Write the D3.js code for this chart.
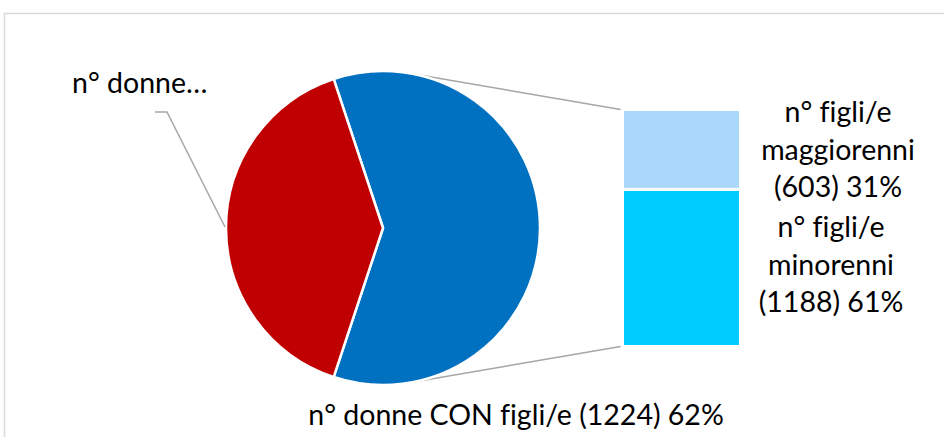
<!DOCTYPE html>
<html lang="it">
<head>
<meta charset="UTF-8">
<title>Donne con figli/e</title>
<script src="https://d3js.org/d3.v7.min.js"></script>
<style>
  body { margin: 0; background: #fff; }
  text { font-family: Lato, "Open Sans", sans-serif; font-size: 28.5px; fill: #000;
         font-variant-ligatures: none; font-feature-settings: "liga" 0; }
  .frame { stroke: #d9d9d9; stroke-width: 1.5px; fill: none; }
  .connector, .leader { stroke: #a6a6a6; stroke-width: 1.5px; fill: none; }
</style>
</head>
<body>
<svg id="chart" width="944" height="437"></svg>
<script>
// pie: women without / with children
var pieNames = ["n° donne SENZA figli/e", "n° donne CON figli/e"];
var pieValues = [810, 1224];
var pieLabels = ["n° donne…", "n° donne CON figli/e (1224) 62%"];
var pieColors = ["#C00000", "#0070C0"];

// bar: breakdown of the children
var barNames = ["n° figli/e minorenni", "n° figli/e maggiorenni"];
var barValues = [1188, 603];
var barLabels = [["n° figli/e", "minorenni", "(1188) 61%"], ["n° figli/e", "maggiorenni", "(603) 31%"]];
var barColors = ["#00CCFF", "#A9D8FB"];

var svg = d3.select("#chart");

// chart frame (only top/left edges visible)
svg.append("path").attr("class", "frame").attr("d", "M4.5,437V13.5H944");

var cx = 383, cy = 228, r = 157;
var blueShare = pieValues[1] / d3.sum(pieValues);
var start = Math.PI / 2 - Math.PI * blueShare;

var pie = d3.pie().sort(null)
    .startAngle(start)
    .endAngle(start + 2 * Math.PI);
// draw blue first so it is centred on the right
var arcs = pie([pieValues[1], pieValues[0]]);
var arc = d3.arc().innerRadius(0).outerRadius(r);

// bar scale
var barTotal = d3.sum(barValues);
var y = d3.scaleLinear().domain([0, barTotal]).range([346.5, 109.5]);
var barX = 622.5, barW = 118;

// connector lines, tangent from bar corners to circle
function tangent(px, py, side) {
  var dx = px - cx, dy = py - cy;
  var d = Math.sqrt(dx * dx + dy * dy);
  var base = Math.atan2(dy, dx);
  var off = Math.acos(r / d) * side;
  return [cx + r * Math.cos(base + off), cy + r * Math.sin(base + off)];
}
var corners = [[barX, y(barTotal), -1], [barX, y(0), 1]];
svg.append("g").selectAll("line")
  .data(corners)
  .join("line")
  .attr("class", "connector")
  .attr("x1", function(d) { return tangent(d[0], d[1], d[2])[0]; })
  .attr("y1", function(d) { return tangent(d[0], d[1], d[2])[1]; })
  .attr("x2", function(d) { return d[0] - 2; })
  .attr("y2", function(d) { return d[1]; });

var pieG = svg.append("g").attr("transform", "translate(" + cx + "," + cy + ")");
pieG.selectAll("path")
  .data(arcs)
  .join("path")
  .attr("d", arc)
  .attr("fill", function(d, i) { return i === 0 ? pieColors[1] : pieColors[0]; })
  .attr("stroke", "#fff")
  .attr("stroke-width", 2.5)
  .attr("stroke-linejoin", "round");

// stacked bar
var stackData = [];
var acc = 0;
barValues.forEach(function(v, i) {
  stackData.push({ y0: acc, y1: acc + v, color: barColors[i] });
  acc += v;
});
svg.append("g").selectAll("rect")
  .data(stackData)
  .join("rect")
  .attr("x", barX)
  .attr("width", barW)
  .attr("y", function(d) { return y(d.y1); })
  .attr("height", function(d) { return y(d.y0) - y(d.y1); })
  .attr("fill", function(d) { return d.color; })
  .attr("stroke", "#fff")
  .attr("stroke-width", 3);

// red slice label + leader
svg.append("path").attr("class", "leader")
  .attr("d", "M155,112H167L225,227");
svg.append("text").attr("x", 72).attr("y", 93).text(pieLabels[0]);

// blue slice label
svg.append("text").attr("x", 516).attr("y", 425)
  .attr("text-anchor", "middle").text(pieLabels[1]);

// bar labels
var barLabelPos = [{ x: 831, y: 237 }, { x: 838, y: 122 }];
barLabels.forEach(function(lines, i) {
  var t = svg.append("text")
    .attr("text-anchor", "middle")
    .attr("x", barLabelPos[i].x)
    .attr("y", barLabelPos[i].y);
  lines.forEach(function(s, j) {
    t.append("tspan")
      .attr("x", barLabelPos[i].x)
      .attr("dy", j === 0 ? 0 : 37.5)
      .text(s);
  });
});
</script>
</body>
</html>
